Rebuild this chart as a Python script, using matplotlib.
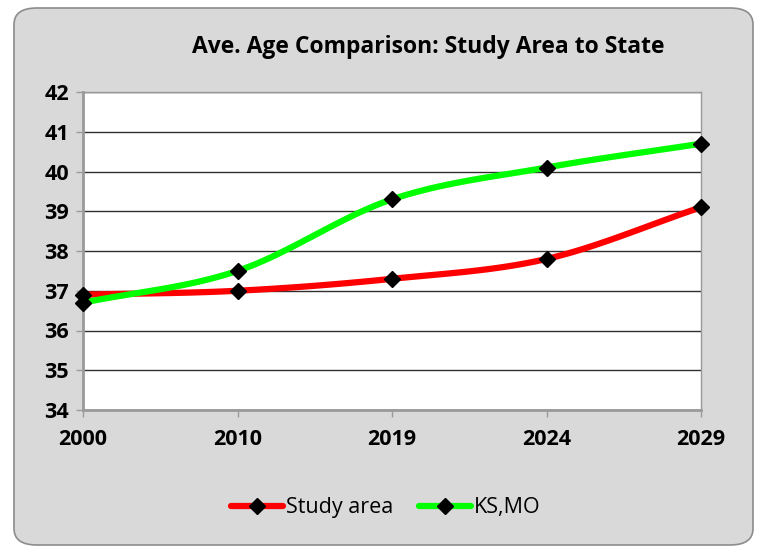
import numpy as np
import matplotlib
matplotlib.use("Agg")
import matplotlib.pyplot as plt
from matplotlib.patches import FancyBboxPatch
from matplotlib.lines import Line2D

#  Chart data.
years = ["2000", "2010", "2019", "2024", "2029"]
study_area = [36.9, 37.0, 37.3, 37.8, 39.1]
ks_mo = [36.7, 37.5, 39.3, 40.1, 40.7]
yticks = [34, 35, 36, 37, 38, 39, 40, 41, 42]

plt.rcParams['font.family'] = ['Open Sans', 'DejaVu Sans']


#  Excel-style smoothed line through the points (Catmull-Rom).
def smooth(xs, ys, n=30):
	xs = np.asarray(xs, float)
	ys = np.asarray(ys, float)
	px = np.concatenate([[2 * xs[0] - xs[1]], xs, [2 * xs[-1] - xs[-2]]])
	py = np.concatenate([[2 * ys[0] - ys[1]], ys, [2 * ys[-1] - ys[-2]]])
	outx, outy = [], []
	t = np.linspace(0, 1, n)
	for i in range(1, len(px) - 2):
		for p, out in ((px, outx), (py, outy)):
			p0, p1, p2, p3 = p[i - 1], p[i], p[i + 1], p[i + 2]
			out.extend(0.5 * ((2 * p1) + (-p0 + p2) * t
				+ (2 * p0 - 5 * p1 + 4 * p2 - p3) * t ** 2
				+ (-p0 + 3 * p1 - 3 * p2 + p3) * t ** 3))
	return outx, outy


fig = plt.figure(figsize=(7.62, 5.46), dpi=100)
fig.patch.set_facecolor('white')

#  Rounded grey chart area.
box = FancyBboxPatch((14 / 762, 1 - 545 / 546), 739 / 762, 537 / 546,
	boxstyle="round,pad=0,rounding_size=0.03", transform=fig.transFigure,
	facecolor='#d9d9d9', edgecolor='#8c8c8c', linewidth=1.2, zorder=-1)
fig.patches.append(box)

ax = fig.add_axes([83 / 762, 1 - 410 / 546, 618 / 762, 318 / 546])
ax.set_zorder(1)
ax.set_facecolor('white')

xpos = np.arange(len(years))
for vals, col, name in ((study_area, '#ff0000', 'Study area'), (ks_mo, '#00ff00', 'KS,MO')):
	sx, sy = smooth(xpos, vals)
	ax.plot(sx, sy, color=col, linewidth=4.5, solid_capstyle='round', zorder=3)
	ax.plot(xpos, vals, linestyle='none', marker='D', markersize=8.5,
		color='black', zorder=4, clip_on=False)

ax.set_xlim(0, len(years) - 1)
ax.set_ylim(34, 42)
ax.set_yticks(yticks)
ax.set_xticks(xpos)
ax.set_xticklabels(years)
ax.yaxis.grid(True, color='#303030', linewidth=1)
ax.set_axisbelow(True)

for s in ('left', 'bottom'):
	ax.spines[s].set_color('#9a9a9a')
	ax.spines[s].set_linewidth(2)
for s in ('top', 'right'):
	ax.spines[s].set_color('#9a9a9a')
	ax.spines[s].set_linewidth(1)

ax.tick_params(axis='both', direction='out', length=5, color='#9a9a9a',
	labelsize=15.5, width=1)
ax.tick_params(axis='y', pad=5)
ax.tick_params(axis='x', pad=9)
for lab in ax.get_xticklabels() + ax.get_yticklabels():
	lab.set_fontweight('bold')

fig.text(428 / 762, 1 - 47 / 546, 'Ave. Age Comparison: Study Area to State',
	ha='center', va='center', fontsize=16.5, fontweight='bold')

handles = [
	Line2D([], [], color='#ff0000', linewidth=4.5, marker='D', markersize=8.5,
		markerfacecolor='black', markeredgecolor='black', solid_capstyle='round'),
	Line2D([], [], color='#00ff00', linewidth=4.5, marker='D', markersize=8.5,
		markerfacecolor='black', markeredgecolor='black', solid_capstyle='round'),
]
fig.legend(handles, ['Study area', 'KS,MO'], loc='center',
	bbox_to_anchor=(386 / 762, 1 - 508 / 546), ncol=2, frameon=False,
	fontsize=15.5, handlelength=2.4, handletextpad=0.15, columnspacing=1.2)

fig.savefig('out.png', dpi=100)
